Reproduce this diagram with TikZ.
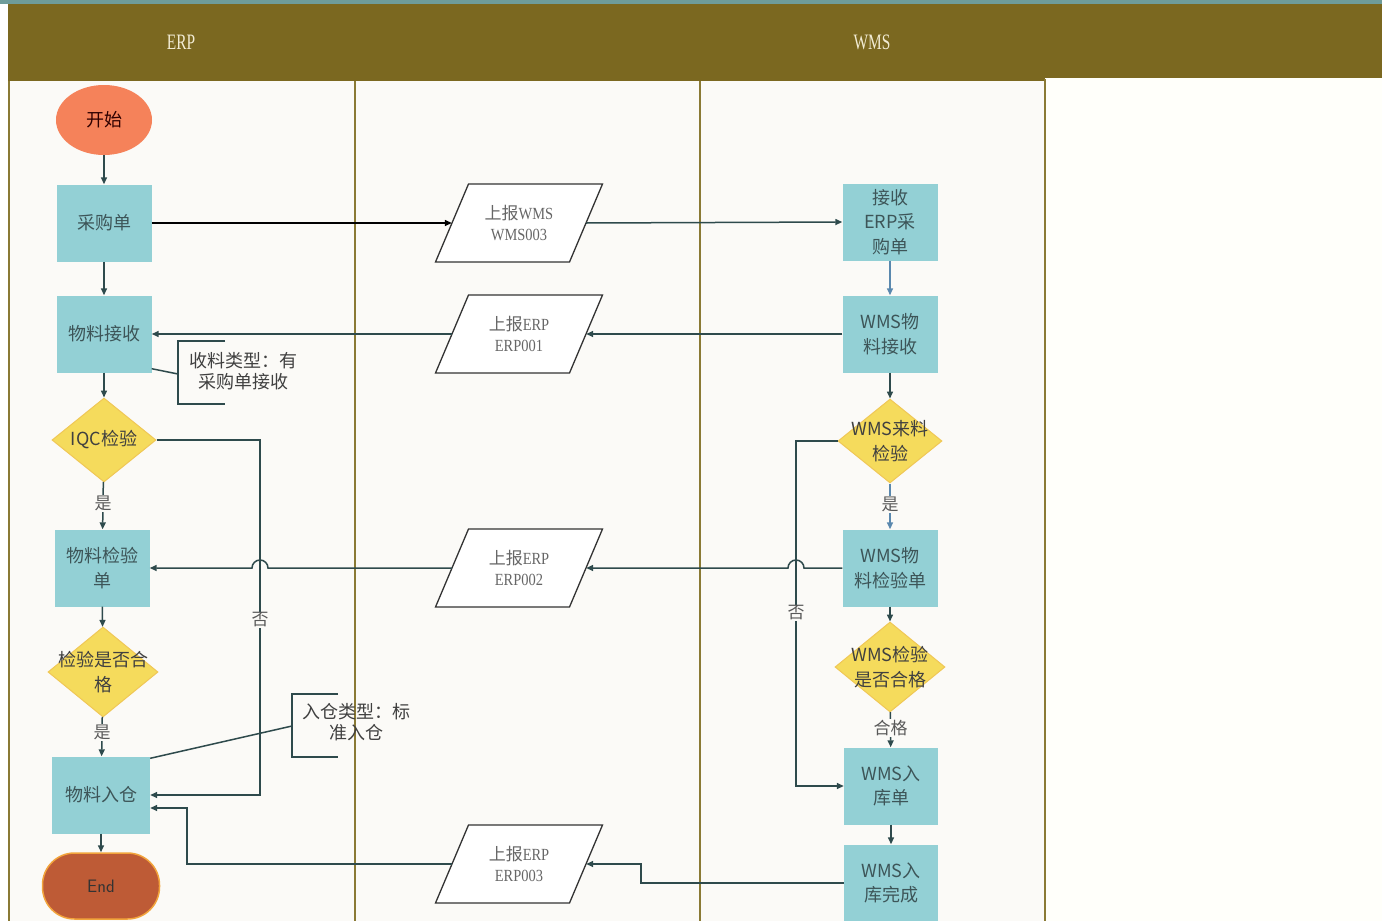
\documentclass[tikz,border=0pt]{standalone}
\usepackage{fontspec}
\setmainfont{Liberation Serif}
\newfontfamily\cjk{Noto Sans CJK SC}
\newfontfamily\hdr[FakeStretch=0.7]{Liberation Serif}
\newfontfamily\pfont[FakeStretch=0.85]{Liberation Serif}
\usetikzlibrary{shapes.geometric,arrows.meta,calc}
\definecolor{olive}{HTML}{7B6820}
\definecolor{teal}{HTML}{6E9C9A}
\definecolor{lane}{HTML}{8A7A35}
\definecolor{bgc}{HTML}{FBFAF7}
\definecolor{boxc}{HTML}{93D0D5}
\definecolor{boxtxt}{HTML}{3D5558}
\definecolor{dia}{HTML}{F5DB5C}
\definecolor{diab}{HTML}{F0C756}
\definecolor{startc}{HTML}{F5825A}
\definecolor{endc}{HTML}{BE5B36}
\definecolor{endb}{HTML}{F2A43C}
\definecolor{conn}{HTML}{2E4A4C}
\definecolor{blu}{HTML}{5A88AE}
\definecolor{hdrt}{HTML}{F2ECD4}
\tikzset{
  proc/.style={fill=boxc, minimum width=95pt, minimum height=77pt, inner sep=1pt, align=center, font=\cjk\fontsize{18}{24.5}\selectfont, text=boxtxt},
  dec/.style={diamond, fill=dia, draw=diab, line width=1pt, minimum width=#1, minimum height=84pt, inner sep=0pt},
  dectext/.style={font=\cjk\fontsize{18}{24.5}\selectfont, text=black!75, align=center},
  pshape/.style={draw=black!80, line width=1.3pt, fill=white},
  pbox/.style={minimum width=134pt, minimum height=78pt, inner sep=0pt, align=center, font=\pfont\fontsize{17}{21}\selectfont, text=black!60},
  cl/.style={draw=conn, line width=1.5pt},
  arr/.style={cl, -{Triangle[length=7pt,width=6pt]}},
  lbl/.style={fill=bgc, inner sep=1pt, font=\cjk\fontsize{17}{20}\selectfont, text=black!65},
  note/.style={align=center, font=\cjk\fontsize{18}{21}\selectfont, text=black!75},
}
\newcommand\paranode[3]{%
  \filldraw[pshape] ($(#2)+(-83.5,39)$) -- ($(#2)+(-50.5,-39)$) -- ($(#2)+(83.5,-39)$) -- ($(#2)+(50.5,39)$) -- cycle;
  \node[pbox] (#1) at (#2) {#3};}
\begin{document}
\begin{tikzpicture}[x=1pt,y=-1pt]
\useasboundingbox (0,0) rectangle (1382,921);
% background
\fill[white] (0,0) rectangle (1382,921);
\fill[teal] (0,0) rectangle (1382,4);
\fill[bgc] (8,81) rectangle (1045,921);
\fill[white!98!yellow] (1046,78) rectangle (1382,921);
\fill[olive] (8,4) rectangle (1382,78);
\fill[olive] (8,78) rectangle (1045,81);
\draw[lane, line width=1.8pt] (9,81) -- (9,921);
\draw[lane, line width=1.8pt] (355,81) -- (355,921);
\draw[lane, line width=1.8pt] (700,81) -- (700,921);
\draw[lane, line width=1.8pt] (1045,79) -- (1045,921);
\node[font=\hdr\fontsize{22}{24}\selectfont, text=hdrt] (hERP) at (181,42) {ERP};
\node[font=\hdr\fontsize{22}{24}\selectfont, text=hdrt] (hWMS) at (872,42) {WMS};

% ERP lane nodes
\node[ellipse, fill=startc, minimum width=96pt, minimum height=70pt, font=\cjk\fontsize{18}{20}\selectfont, text=black!70!red!60!black] (start) at (104,120) {开始};
\node[proc] (cgd) at (104,223) {采购单};
\node[proc] (wljs) at (104,334) {物料接收};
\node[dec=104pt] (iqc) at (104,440) {};
\node[dectext] (iqct) at (104,440) {IQC检验};
\node[proc] (wljyd) at (102,568) {物料检验\\单};
\node[dec=110pt, minimum height=90pt] (jyhg) at (103,672) {};
\node[dectext] (jyhgt) at (103,672) {检验是否合\\格};
\node[proc, minimum width=98pt] (rk) at (101,795) {物料入仓};
\node[rectangle, rounded corners=32pt, fill=endc, draw=endb, line width=1.5pt, minimum width=117pt, minimum height=66pt, font=\fontsize{18}{20}\selectfont\sffamily, text=black!80] (end) at (101,886) {End};

% parallelograms
\paranode{p1}{519,223}{{\cjk 上报}WMS\\WMS003}
\paranode{p2}{519,334}{{\cjk 上报}ERP\\ERP001}
\paranode{p3}{519,568}{{\cjk 上报}ERP\\ERP002}
\paranode{p4}{519,864}{{\cjk 上报}ERP\\ERP003}

% WMS lane nodes
\node[proc] (jserp) at (890,222) {接收\\ERP采\\购单};
\node[proc] (wwljs) at (890,334) {WMS物\\料接收};
\node[dec=104pt] (wlljy) at (890,441) {};
\node[dectext] (wlljyt) at (890,441) {WMS来料\\检验};
\node[proc] (wwjyd) at (890,568) {WMS物\\料检验单};
\node[dec=110pt, minimum height=90pt] (wjyhg) at (890,667) {};
\node[dectext] (wjyhgt) at (890,667) {WMS检验\\是否合格};
\node[proc, minimum width=94pt] (wrkd) at (891,786) {WMS入\\库单};
\node[proc, minimum width=94pt] (wrkwc) at (891,883) {WMS入\\库完成};

% annotations
\node[note] (n1) at (243,371) {收料类型：有\\采购单接收};
\draw[cl] (225,341) -- (178,341) -- (178,404) -- (225,404);
\coordinate (n1a) at (178,374);
\draw[cl] ($(wljs.south east)+(0,-4)$) -- (n1a);
\node[note] (n2) at (356,722) {入仓类型：标\\准入仓};
\draw[cl] (338,694) -- (292,694) -- (292,757) -- (338,757);
\coordinate (n2a) at (292,726);
\draw[cl] ($(rk.north east)+(0,2)$) -- (n2a);

% ERP lane connectors
\draw[arr] (start) -- (cgd);
\draw[arr] (cgd) -- (wljs);
\draw[arr] (wljs) -- (iqc);
\draw[arr] (iqc) -- node[lbl, pos=0.45] (ls1) {是} (wljyd);
\draw[arr] (wljyd) -- (jyhg);
\draw[arr] (jyhg) -- node[lbl, pos=0.4] (ls2) {是} (rk);
\draw[arr] (rk) -- (end);
\coordinate (noL) at (260,795);
\draw[arr] (iqc.east) -| (noL) -- (rk.east);
\node[lbl] (no1) at (260,620) {否};

% cross-lane connectors
\draw[cl, draw=black, -{Triangle[length=7pt,width=6pt]}] (cgd.east) -- (p1.west);
\draw[arr] (p1.east) -- (jserp.west);
\draw[arr] (wwljs.west) -- (p2.east);
\draw[arr] (p2.west) -- (wljs.east);
\draw[arr] (p3.west) -- (268,568) arc[start angle=0, end angle=-180, radius=8] -- (wljyd.east);
\draw[arr] (wwjyd.west) -- (804,568) arc[start angle=0, end angle=-180, radius=8] -- (p3.east);
\draw[arr] (wrkwc.west) -- (641,883) |- (p4.east);
\draw[arr] (p4.west) -- (187,864) |- ($(rk.east)+(0,13)$);

% WMS lane connectors
\draw[arr, draw=blu] (jserp) -- (wwljs);
\draw[arr] (wwljs) -- (wlljy);
\draw[arr, draw=blu] (wlljy) -- node[lbl, pos=0.45] (ls3) {是} (wwjyd);
\draw[arr] (wwjyd) -- (wjyhg);
\draw[arr] (wjyhg) -- node[lbl, pos=0.45] (ls4) {合格} (wrkd);
\draw[arr] (wrkd) -- (wrkwc);
\coordinate (noW) at (796,786);
\draw[arr] (wlljy.west) -| (noW) -- (wrkd.west);
\node[lbl] (no2) at (796,613) {否};
\end{tikzpicture}
\end{document}
